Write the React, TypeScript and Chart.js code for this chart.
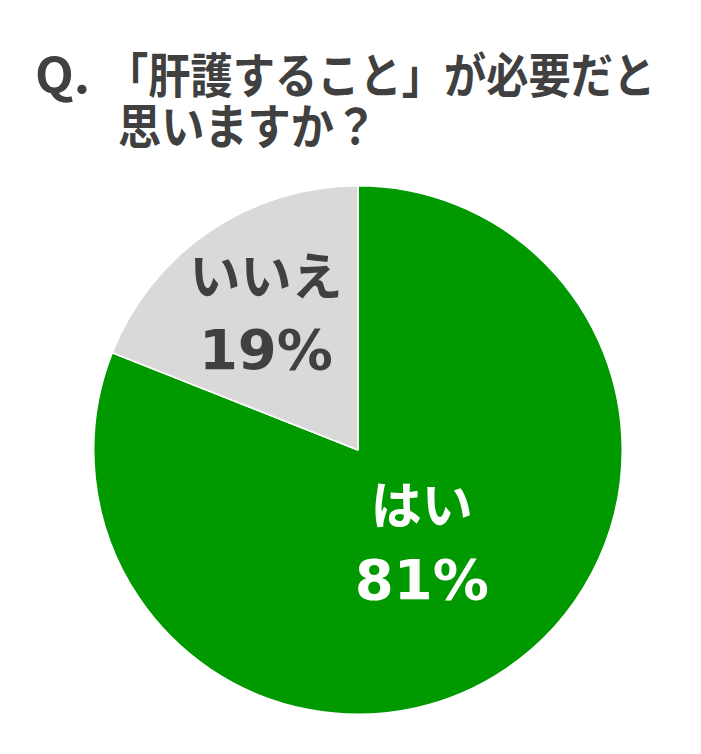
import { useRef, useEffect } from 'react'
import { Chart, ArcElement, PieController, Plugin } from 'chart.js'

Chart.register(ArcElement, PieController)

const categories = ['はい', 'いいえ']
const shares = [81, 19]
const sliceColours = ['#009900', '#d9d9d9']
const labelColours = ['#ffffff', '#404040']
// how far out along each slice's middle the label block sits (share of radius)
const labelRadius = [0.43, 0.62]

const titleLine1 = '「肝護すること」が必要だと'
const titleLine2 = '思いますか？'

const sliceLabels: Plugin<'pie'> = {
  id: 'sliceLabels',
  afterDatasetsDraw(chart) {
    const { ctx } = chart
    const meta = chart.getDatasetMeta(0)
    meta.data.forEach((el, i) => {
      const arc = el as any
      const mid = (arc.startAngle + arc.endAngle) / 2
      const r = arc.outerRadius * labelRadius[i]
      const cx = arc.x + Math.cos(mid) * r
      const cy = arc.y + Math.sin(mid) * r
      ctx.save()
      ctx.fillStyle = labelColours[i]
      ctx.textAlign = 'center'
      ctx.textBaseline = 'middle'
      ctx.font = 'bold 51px "Noto Sans CJK JP", sans-serif'
      ctx.fillText(categories[i], cx, cy - 39)
      ctx.font = 'bold 56px "DejaVu Sans", sans-serif'
      ctx.fillText(`${shares[i]}%`, cx, cy + 40)
      ctx.restore()
    })
  }
}

export default function App() {
  const canvasRef = useRef<HTMLCanvasElement>(null)
  const chartRef = useRef<Chart<'pie'> | null>(null)

  useEffect(() => {
    if (!canvasRef.current) return
    if (chartRef.current) chartRef.current.destroy()

    chartRef.current = new Chart(canvasRef.current, {
      type: 'pie',
      data: {
        labels: categories,
        datasets: [{
          data: shares,
          backgroundColor: sliceColours,
          borderColor: '#ffffff',
          borderWidth: 1.5,
        }]
      },
      options: {
        animation: false,
        responsive: false,
        maintainAspectRatio: false,
        events: [],
        layout: { padding: 0 },
        plugins: {
          legend: { display: false },
          tooltip: { enabled: false },
        }
      },
      plugins: [sliceLabels]
    })

    return () => { chartRef.current?.destroy() }
  }, [])

  // the original title face is tall and narrow, so squeeze a bigger size
  const titleFont: React.CSSProperties = {
    position: 'absolute',
    fontFamily: '"Noto Sans CJK JP", sans-serif',
    fontWeight: 700,
    fontSize: 48,
    lineHeight: '52px',
    color: '#404040',
    whiteSpace: 'nowrap',
    transformOrigin: 'left top',
  }

  return (
    <div style={{ position: 'absolute', left: 0, top: 0, width: 701, height: 754, background: '#fff', overflow: 'hidden' }}>
      <div style={{ ...titleFont, left: 35, top: 46, transform: 'scaleX(1.05)' }}>Q.</div>
      <div style={{ ...titleFont, left: 106, top: 46, transform: 'scaleX(0.88)' }}>{titleLine1}</div>
      <div style={{ ...titleFont, left: 118, top: 97, transform: 'scaleX(0.9)' }}>{titleLine2}</div>
      <canvas ref={canvasRef} width={530} height={530}
        style={{ position: 'absolute', left: 93, top: 185, width: 530, height: 530 }} />
    </div>
  )
}
